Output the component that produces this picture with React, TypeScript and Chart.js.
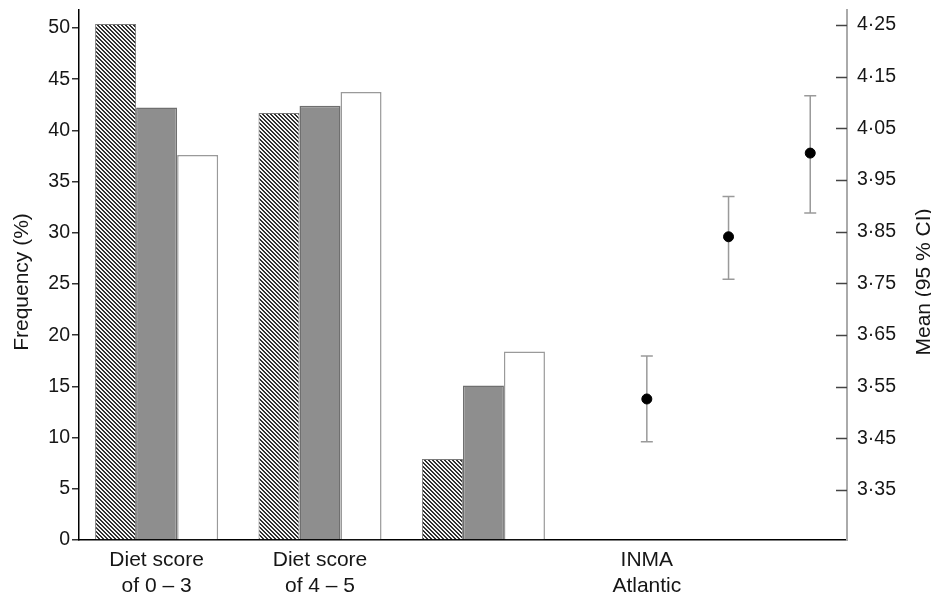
import React, { useEffect, useRef } from "react";
import { Chart, registerables } from "chart.js";

Chart.register(...registerables);

// ---- data ----
const xLabels: string[][] = [
  ["Diet score", "of 0 – 3"],
  ["Diet score", "of 4 – 5"],
  ["INMA", "Atlantic"],
];
const hatchedValues = [50.4, 41.7, 7.9];
const greyValues = [42.25, 42.4, 15.1];
const whiteValues = [37.6, 43.75, 18.4];
const meanValues = [3.526, 3.84, 4.002];
const ciLower = [3.443, 3.758, 3.886];
const ciUpper = [3.609, 3.918, 4.113];
const leftTicks = [0, 5, 10, 15, 20, 25, 30, 35, 40, 45, 50];
const rightTicks = [3.35, 3.45, 3.55, 3.65, 3.75, 3.85, 3.95, 4.05, 4.15, 4.25];
const leftTitle = "Frequency (%)";
const rightTitle = "Mean (95 % CI)";

// layout slots on the linear x axis (not data)
const groupX = (i: number) => 2 + 4 * i;
const pointX = (i: number) => 14 + 2 * i;
const labelX = [groupX(0), groupX(1), pointX(0)];

const FONT = "Liberation Sans";
const TEXT = "#161616";
const TICK_SIZE = 19.5;

function makeHatch(ctx: CanvasRenderingContext2D) {
  const s = 4;
  const c = document.createElement("canvas");
  c.width = s;
  c.height = s;
  const g = c.getContext("2d")!;
  const img = g.createImageData(s, s);
  for (let y = 0; y < s; y++) {
    for (let x = 0; x < s; x++) {
      const d = (((x - y) % s) + s) % s;
      const dark = d < 2;
      const v = dark ? 0x30 : 0xf6;
      const o = (y * s + x) * 4;
      img.data[o] = v;
      img.data[o + 1] = v;
      img.data[o + 2] = v;
      img.data[o + 3] = 255;
    }
  }
  g.putImageData(img, 0, 0);
  return ctx.createPattern(c, "repeat")!;
}

const zeroPad = (s: any) => {
  s.paddingTop = 0;
  s.paddingBottom = 0;
  s.paddingLeft = 0;
  s.paddingRight = 0;
};

const decor = {
  id: "decor",
  beforeDatasetsDraw(chart: any) {
    const { ctx, scales } = chart;
    const xs = scales.x;
    const y2 = scales.y2;
    ctx.save();
    ctx.strokeStyle = "#9a9a9a";
    ctx.lineWidth = 1.5;
    meanValues.forEach((_, i) => {
      const px = xs.getPixelForValue(pointX(i));
      const top = y2.getPixelForValue(ciUpper[i]);
      const bot = y2.getPixelForValue(ciLower[i]);
      ctx.beginPath();
      ctx.moveTo(px, top);
      ctx.lineTo(px, bot);
      ctx.moveTo(px - 6, top);
      ctx.lineTo(px + 6, top);
      ctx.moveTo(px - 6, bot);
      ctx.lineTo(px + 6, bot);
      ctx.stroke();
    });
    ctx.restore();
  },
  afterDraw(chart: any) {
    const { ctx, scales, chartArea } = chart;
    const y2 = scales.y2;
    ctx.save();
    ctx.strokeStyle = "#444";
    ctx.lineWidth = 1.5;
    ctx.beginPath();
    y2.ticks.forEach((t: any) => {
      const y = Math.round(y2.getPixelForValue(t.value)) + 0.5;
      ctx.moveTo(y2.left - 11, y);
      ctx.lineTo(y2.left, y);
    });
    ctx.stroke();

    const cy = (chartArea.top + chartArea.bottom) / 2 + 7;
    ctx.fillStyle = TEXT;
    ctx.font = `21px "${FONT}"`;
    ctx.textAlign = "center";
    ctx.textBaseline = "middle";
    ctx.save();
    ctx.translate(22, cy);
    ctx.rotate(-Math.PI / 2);
    ctx.fillText(leftTitle, 0, 0);
    ctx.restore();
    ctx.save();
    ctx.translate(924, cy);
    ctx.rotate(-Math.PI / 2);
    ctx.fillText(rightTitle, 0, 0);
    ctx.restore();
    ctx.restore();
  },
};

export default function App() {
  const ref = useRef<HTMLCanvasElement | null>(null);
  useEffect(() => {
    const canvas = ref.current!;
    const ctx = canvas.getContext("2d")!;
    const hatch = makeHatch(ctx);
    const chart = new Chart(ctx, {
      type: "bar",
      data: {
        datasets: [
          {
            label: "hatched",
            data: hatchedValues.map((v, i) => ({ x: groupX(i), y: v })),
            backgroundColor: hatch as any,
            borderColor: "#7a7a7a",
            borderWidth: 1,
            yAxisID: "y",
            xAxisID: "x",
          },
          {
            label: "grey",
            data: greyValues.map((v, i) => ({ x: groupX(i), y: v })),
            backgroundColor: "#8e8e8e",
            borderColor: "#6f6f6f",
            borderWidth: 1.5,
            yAxisID: "y",
            xAxisID: "x",
          },
          {
            label: "white",
            data: whiteValues.map((v, i) => ({ x: groupX(i), y: v })),
            backgroundColor: "#ffffff",
            borderColor: "#9a9a9a",
            borderWidth: 1.5,
            yAxisID: "y",
            xAxisID: "x",
          },
          {
            type: "scatter" as any,
            label: "mean",
            data: meanValues.map((v, i) => ({ x: pointX(i), y: v })),
            backgroundColor: "#000",
            borderColor: "#000",
            pointRadius: 5,
            yAxisID: "y2",
            xAxisID: "x",
          } as any,
        ],
      },
      options: {
        responsive: false,
        animation: false,
        events: [],
        layout: { padding: { top: 10, left: 0, right: 0, bottom: 0 } },
        plugins: {
          legend: { display: false },
          tooltip: { enabled: false },
        },
        datasets: {
          bar: { categoryPercentage: 0.753, barPercentage: 1, grouped: true },
        } as any,
        scales: {
          x: {
            type: "linear",
            position: "bottom",
            min: 0.1,
            max: 18.9,
            offset: false,
            afterBuildTicks: (s: any) => {
              s.ticks = labelX.map((v) => ({ value: v }));
            },
            afterFit: (s: any) => {
              s.height = 58;
              zeroPad(s);
            },
            grid: { display: true, drawOnChartArea: false, drawTicks: false },
            border: { display: true, color: "#000", width: 1.5 },
            ticks: {
              autoSkip: false,
              maxRotation: 0,
              padding: 8,
              color: TEXT,
              font: { family: FONT, size: 21, lineHeight: 1.2 },
              callback: (_v: any, i: number) => xLabels[i],
            },
          },
          y: {
            type: "linear",
            position: "left",
            min: 0,
            max: 51.76,
            afterBuildTicks: (s: any) => {
              s.ticks = leftTicks.map((v) => ({ value: v }));
            },
            afterFit: (s: any) => {
              s.width = 79;
              zeroPad(s);
            },
            grid: {
              display: true,
              drawOnChartArea: false,
              drawTicks: true,
              tickLength: 7,
              color: "#333",
              lineWidth: 1.5,
            },
            border: { display: true, color: "#000", width: 1.5 },
            ticks: {
              padding: 2,
              color: TEXT,
              font: { family: FONT, size: TICK_SIZE },
            },
          },
          y2: {
            type: "linear",
            position: "right",
            min: 3.253,
            max: 4.279,
            afterBuildTicks: (s: any) => {
              s.ticks = rightTicks.map((v) => ({ value: v }));
            },
            afterFit: (s: any) => {
              s.width = 84;
              zeroPad(s);
            },
            grid: { display: true, drawOnChartArea: false, drawTicks: false },
            border: { display: true, color: "#aaaaaa", width: 2 },
            ticks: {
              padding: 10,
              color: TEXT,
              font: { family: FONT, size: TICK_SIZE },
              callback: (v: any) => Number(v).toFixed(2).replace(".", "·"),
            },
          },
        },
      } as any,
      plugins: [decor],
    });
    return () => chart.destroy();
  }, []);
  return (
    <div style={{ position: "fixed", left: 0, top: 0, width: 931, height: 598, background: "#fff" }}>
      <canvas ref={ref} width={931} height={598} style={{ display: "block" }} />
    </div>
  );
}
